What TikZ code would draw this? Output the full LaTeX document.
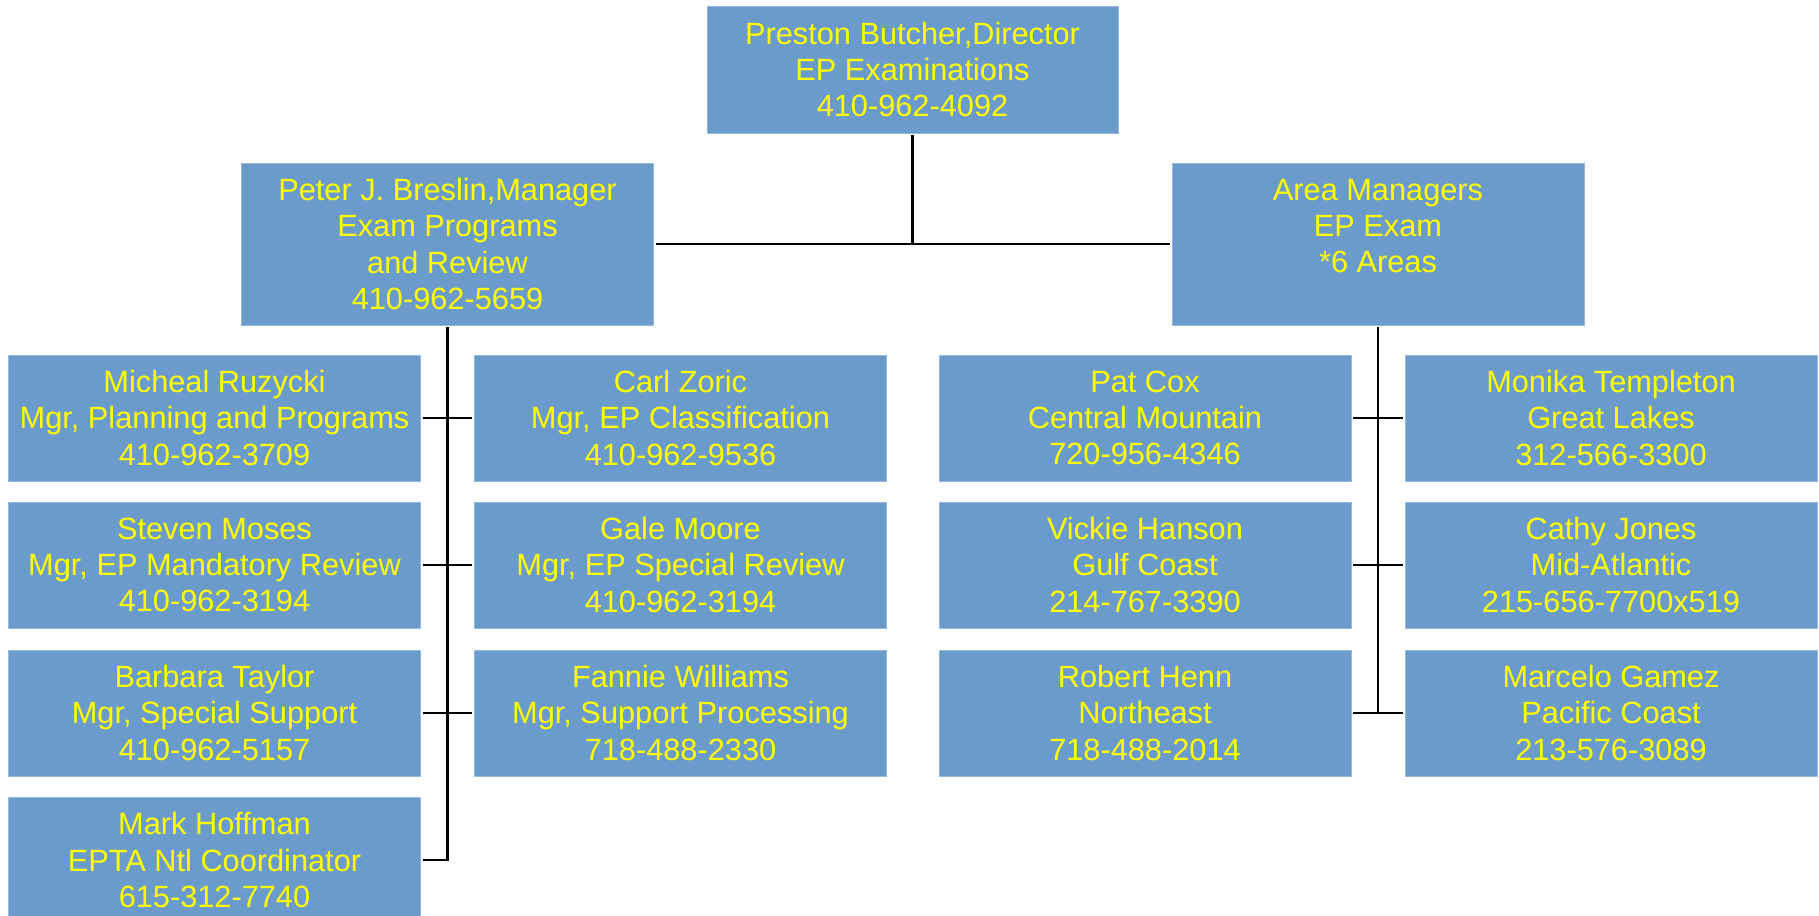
\documentclass[tikz,border=0pt]{standalone}
\usepackage{fontspec}
\setmainfont{Liberation Sans}
\usetikzlibrary{positioning}
\definecolor{boxblue}{RGB}{106,155,203}
\definecolor{boxedge}{RGB}{150,185,220}
\definecolor{txtyellow}{RGB}{255,255,0}

\begin{document}
\begin{tikzpicture}[x=0.02cm,y=-0.02cm,
    person/.style={rectangle,fill=boxblue,draw=boxedge,line width=0.4pt,
      text=txtyellow,align=center,inner sep=0pt,outer sep=0.05cm,
      font=\fontsize{17.5}{20.5}\selectfont,
      minimum width=8.24cm,minimum height=2.52cm},
    headbox/.style={person,minimum height=3.24cm},
    link/.style={line width=1.6pt,black}]
  \clip (0,0) rectangle (1819,916);
  % top
  \node[person,minimum width=8.22cm,minimum height=2.54cm] (dir) at (912.5,69.5)
    {Preston Butcher,Director\\EP Examinations\\410-962-4092};
  \node[headbox] (mgr) at (447.5,244)
    {Peter J. Breslin,Manager\\Exam Programs\\and Review\\410-962-5659};
  \node[headbox] (area) at (1378,244)
    {Area Managers\\EP Exam\\*6 Areas\\\mbox{}};
  % exam programs staff
  \node[person] (ruz) at (214.5,418) {Micheal Ruzycki\\Mgr, Planning and Programs\\410-962-3709};
  \node[person] (mos) at (214.5,565) {Steven Moses\\Mgr, EP Mandatory Review\\410-962-3194};
  \node[person] (tay) at (214.5,713) {Barbara Taylor\\Mgr, Special Support\\410-962-5157};
  \node[person] (hof) at (214.5,860) {Mark Hoffman\\EPTA Ntl Coordinator\\615-312-7740};
  \node[person] (zor) at (680.5,418) {Carl Zoric\\Mgr, EP Classification\\410-962-9536};
  \node[person] (moo) at (680.5,565) {Gale Moore\\Mgr, EP Special Review\\410-962-3194};
  \node[person] (wil) at (680.5,713) {Fannie Williams\\Mgr, Support Processing\\718-488-2330};
  % area managers
  \node[person] (cox) at (1145,418) {Pat Cox\\Central Mountain\\720-956-4346};
  \node[person] (han) at (1145,565) {Vickie Hanson\\Gulf Coast\\214-767-3390};
  \node[person] (hen) at (1145,713) {Robert Henn\\Northeast\\718-488-2014};
  \node[person] (tem) at (1611,418) {Monika Templeton\\Great Lakes\\312-566-3300};
  \node[person] (jon) at (1611,565) {Cathy Jones\\Mid-Atlantic\\215-656-7700x519};
  \node[person] (gam) at (1611,713) {Marcelo Gamez\\Pacific Coast\\213-576-3089};
  % connectors
  \draw[link] (dir.south) -- (dir.south |- mgr.east);
  \draw[link] (mgr.east) -- (area.west);
  \draw[link] (mgr.south) -- (mgr.south |- hof.east) -- (hof.east);
  \draw[link] (area.south) -- (area.south |- hen.east);
  \foreach \a/\b in {ruz/zor,mos/moo,tay/wil,cox/tem,han/jon,hen/gam}
    \draw[link] (\a.east) -- (\b.west);
\end{tikzpicture}
\end{document}
